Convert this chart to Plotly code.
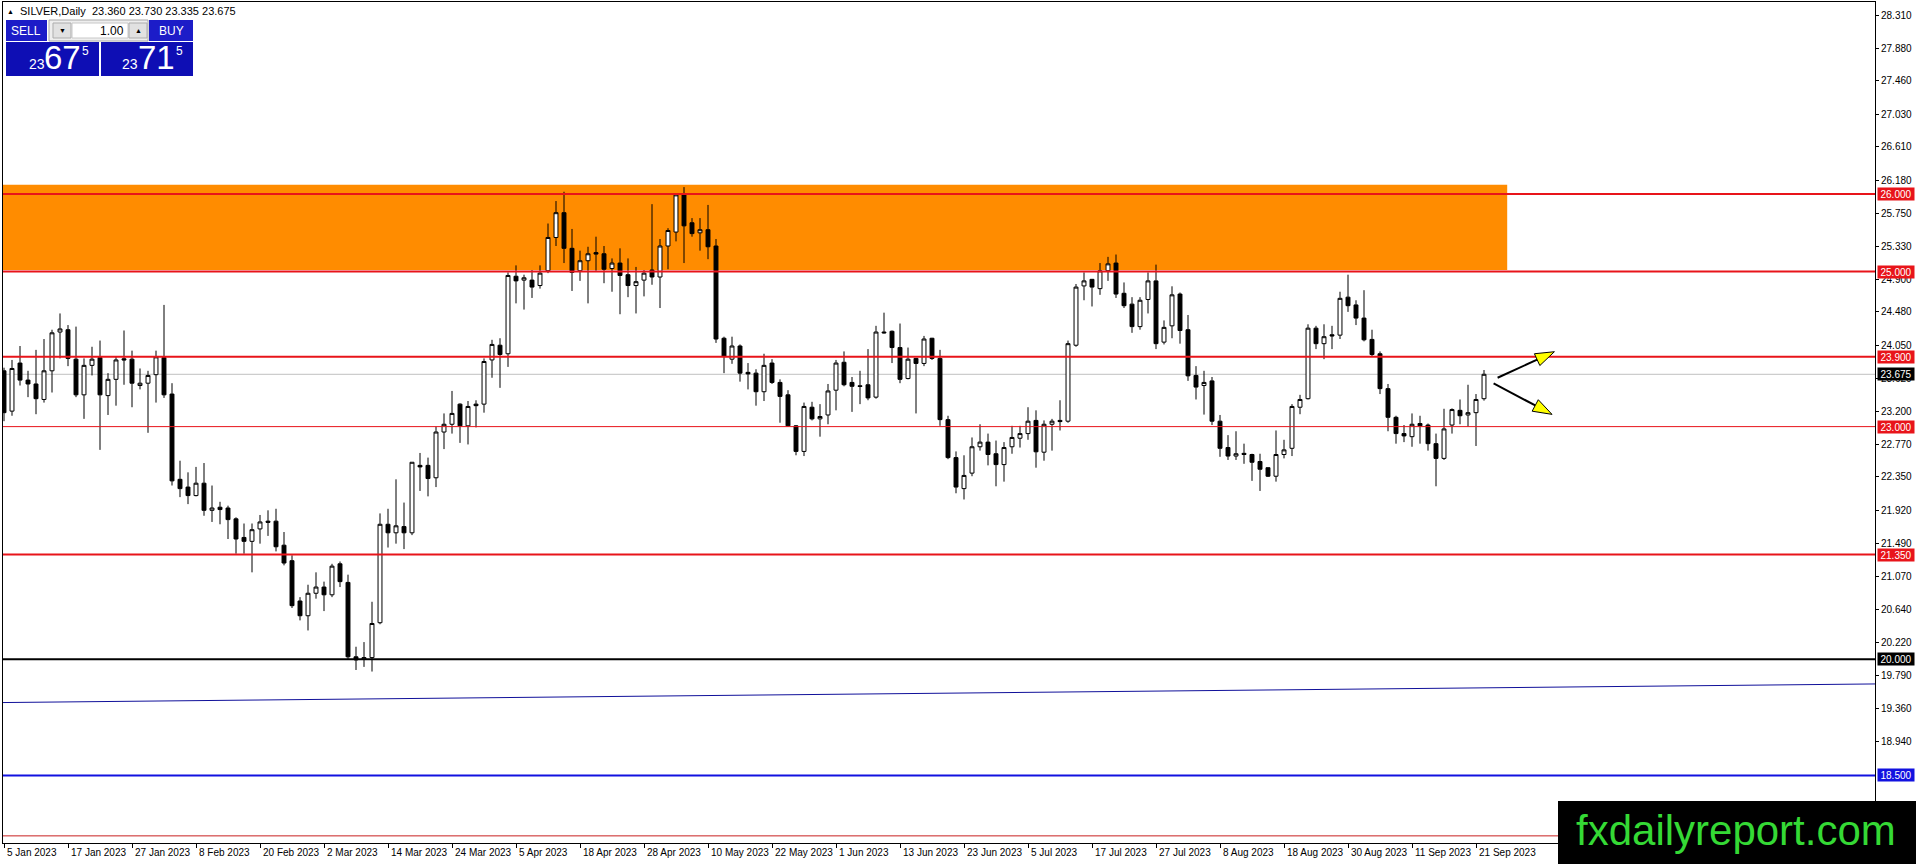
import pandas as pd
import plotly.graph_objects as go

# daily bars (MT4 style, weekdays, Good Friday missing)
dates = pd.bdate_range("2023-01-05", "2023-09-22")
dates = dates[dates != pd.Timestamp("2023-04-07")]

opens = [23.72, 23.20, 23.82, 23.60, 23.55, 23.35, 23.72, 24.22, 24.25, 23.87,
         23.41, 23.79, 23.89, 23.40, 23.61, 23.875, 23.87, 23.53, 23.56, 23.67,
         23.89, 23.42, 22.32, 22.22, 22.11, 22.27, 21.92, 21.96, 21.95, 21.81,
         21.57, 21.52, 21.68, 21.78, 21.78, 21.47, 21.27, 20.75, 20.56, 20.85,
         20.93, 20.83, 21.23, 20.99, 20.03, 20.00, 20.02, 20.47, 21.74, 21.63,
         21.71, 21.63, 22.50, 22.50, 22.34, 22.93, 23.03, 23.29, 23.01, 23.29,
         23.29, 23.86, 24.05, 23.94, 24.94, 24.89, 24.89, 24.82, 25.01, 25.44,
         25.76, 25.30, 25.01, 25.14, 25.245, 25.23, 25.04, 25.11, 24.96, 24.82,
         24.89, 25.02, 24.93, 25.33, 25.51, 25.99, 25.63, 25.50, 25.54, 25.33,
         24.14, 23.87, 24.04, 23.70, 23.69, 23.45, 23.82, 23.57, 23.41, 23.01,
         22.68, 23.25, 23.10, 23.15, 23.47, 23.83, 23.57, 23.527, 23.54, 23.38,
         24.22, 24.23, 24.02, 23.62, 23.88, 23.815, 24.14, 23.88, 23.09, 22.60,
         22.20, 22.40, 22.74, 22.80, 22.65, 22.51, 22.74, 22.85, 22.91, 23.08,
         22.67, 23.03, 23.08, 23.07, 24.05, 24.815, 24.90, 24.78, 25.01, 25.11,
         24.72, 24.58, 24.29, 24.64, 24.88, 24.09, 24.30, 24.71, 24.25, 23.66,
         23.53, 23.59, 23.07, 22.73, 22.62, 22.655, 22.64, 22.55, 22.47, 22.36,
         22.64, 22.72, 23.25, 23.36, 24.27, 24.07, 24.185, 24.18, 24.67, 24.57,
         24.40, 24.125, 23.94, 23.49, 23.12, 22.91, 22.87, 23.04, 23.02, 22.78,
         22.59, 23.02, 23.21, 23.15, 23.18, 23.36]
highs = [23.76, 23.86, 24.04, 23.72, 23.99, 24.13, 24.25, 24.46, 24.31, 24.29,
         23.88, 24.03, 24.11, 23.69, 23.90, 24.24, 23.98, 23.75, 23.72, 23.98,
         24.57, 23.56, 22.56, 22.41, 22.48, 22.53, 22.24, 22.03, 21.98, 21.83,
         21.75, 21.75, 21.86, 21.92, 21.94, 21.64, 21.34, 20.80, 20.96, 21.12,
         21.00, 21.23, 21.26, 21.09, 20.16, 20.22, 20.74, 21.88, 21.94, 22.32,
         22.02, 22.54, 22.66, 22.60, 23.00, 23.17, 23.46, 23.30, 23.33, 23.34,
         23.88, 24.12, 24.14, 24.99, 25.08, 24.96, 25.02, 25.08, 25.62, 25.91,
         26.03, 25.55, 25.27, 25.32, 25.45, 25.33, 25.17, 25.30, 25.17, 25.06,
         25.02, 25.87, 25.42, 25.56, 26.01, 26.09, 25.69, 25.69, 25.86, 25.42,
         24.16, 24.16, 24.06, 23.82, 23.74, 23.94, 23.87, 23.61, 23.47, 23.02,
         23.31, 23.32, 23.29, 23.55, 23.86, 23.97, 23.64, 23.72, 24.00, 24.30,
         24.47, 24.24, 24.33, 24.02, 23.885, 24.17, 24.145, 23.99, 23.14, 22.68,
         22.63, 22.86, 23.03, 22.91, 22.82, 22.80, 23.01, 23.01, 23.25, 23.21,
         23.08, 23.10, 23.34, 24.11, 24.84, 24.99, 24.905, 25.11, 25.19, 25.22,
         24.86, 24.67, 24.67, 24.99, 25.09, 24.37, 24.81, 24.73, 24.44, 23.78,
         23.72, 23.64, 23.15, 22.89, 22.94, 22.78, 22.65, 22.65, 22.47, 22.95,
         22.83, 23.29, 23.41, 24.32, 24.30, 24.32, 24.30, 24.74, 24.96, 24.63,
         24.76, 24.25, 23.97, 23.55, 23.14, 23.02, 23.17, 23.14, 23.04, 22.91,
         23.23, 23.235, 23.35, 23.54, 23.42, 23.73]
lows = [23.07, 23.14, 23.53, 23.38, 23.16, 23.31, 23.44, 23.88, 23.78, 23.38,
        23.10, 23.66, 22.70, 23.15, 23.27, 23.54, 23.25, 23.48, 22.92, 23.31,
        23.37, 22.24, 22.09, 22.00, 22.10, 21.85, 21.77, 21.74, 21.55, 21.36,
        21.36, 21.12, 21.49, 21.59, 21.39, 21.21, 20.66, 20.50, 20.37, 20.78,
        20.62, 20.80, 20.93, 19.99, 19.86, 19.90, 19.84, 20.45, 21.44, 21.49,
        21.42, 21.60, 22.17, 22.10, 22.22, 22.71, 22.91, 22.79, 22.77, 22.99,
        23.18, 23.63, 23.50, 23.77, 24.59, 24.51, 24.66, 24.78, 24.98, 25.33,
        25.11, 24.75, 24.88, 24.59, 25.01, 24.85, 24.74, 24.45, 24.67, 24.46,
        24.68, 24.83, 24.53, 25.03, 25.39, 25.11, 25.45, 25.27, 25.16, 24.08,
        23.69, 23.81, 23.58, 23.48, 23.27, 23.33, 23.55, 23.05, 23.00, 22.63,
        22.62, 23.08, 22.87, 23.03, 23.21, 23.52, 23.19, 23.29, 23.34, 23.36,
        24.20, 23.82, 23.56, 23.61, 23.17, 23.78, 23.86, 23.01, 22.58, 22.14,
        22.06, 22.36, 22.69, 22.50, 22.23, 22.29, 22.65, 22.73, 22.83, 22.47,
        22.56, 22.69, 22.95, 23.05, 24.03, 24.63, 24.55, 24.70, 24.88, 24.66,
        24.53, 24.21, 24.25, 24.46, 24.00, 24.06, 24.14, 24.07, 23.59, 23.35,
        23.155, 23.02, 22.61, 22.57, 22.57, 22.52, 22.30, 22.17, 22.35, 22.29,
        22.59, 22.62, 23.16, 23.35, 24.00, 23.87, 24.00, 24.13, 24.48, 24.31,
        24.10, 23.91, 23.42, 22.94, 22.78, 22.80, 22.74, 22.78, 22.69, 22.23,
        22.57, 22.91, 23.03, 23.00, 22.75, 23.335]
closes = [23.18, 23.75, 23.60, 23.55, 23.36, 23.72, 24.21, 24.26, 23.88, 23.41,
          23.79, 23.87, 23.41, 23.61, 23.86, 23.86, 23.56, 23.56, 23.66, 23.90,
          23.41, 22.30, 22.20, 22.11, 22.27, 21.92, 21.95, 21.93, 21.80, 21.55,
          21.52, 21.67, 21.77, 21.765, 21.45, 21.24, 20.69, 20.56, 20.85, 20.93,
          20.83, 21.20, 21.00, 20.03, 19.99, 20.02, 20.46, 21.74, 21.63, 21.72,
          21.63, 22.54, 22.48, 22.33, 22.93, 23.03, 23.17, 23.01, 23.26, 23.27,
          23.84, 24.06, 23.93, 24.95, 24.88, 24.92, 24.80, 24.98, 25.44, 25.76,
          25.30, 24.99, 25.14, 25.23, 25.226, 25.03, 25.11, 24.95, 24.82, 24.87,
          24.98, 24.93, 25.33, 25.53, 25.99, 25.59, 25.49, 25.54, 25.32, 24.13,
          23.91, 24.04, 23.69, 23.68, 23.45, 23.79, 23.57, 23.39, 23.01, 22.68,
          23.26, 23.10, 23.13, 23.46, 23.82, 23.54, 23.52, 23.518, 23.37, 24.22,
          24.21, 24.02, 23.61, 23.87, 23.815, 24.13, 23.88, 23.09, 22.60, 22.22,
          22.37, 22.74, 22.80, 22.64, 22.51, 22.73, 22.86, 22.91, 23.07, 22.675,
          23.03, 23.07, 23.065, 24.07, 24.80, 24.88, 24.80, 25.01, 25.10, 24.71,
          24.56, 24.29, 24.63, 24.88, 24.07, 24.28, 24.70, 24.24, 23.655, 23.51,
          23.57, 23.07, 22.72, 22.62, 22.65, 22.64, 22.54, 22.45, 22.36, 22.64,
          22.70, 23.26, 23.35, 24.27, 24.07, 24.16, 24.17, 24.655, 24.56, 24.40,
          24.12, 23.93, 23.49, 23.12, 22.91, 22.88, 23.03, 23.01, 22.78, 22.59,
          22.97, 23.22, 23.14, 23.18, 23.35, 23.675]

# price scale labels (the ones under the 18.500 label and the logo are hidden anyway)
y_ticks = [28.310, 27.880, 27.460, 27.030, 26.610, 26.180, 25.750, 25.330,
           24.900, 24.480, 24.050, 23.620, 23.200, 22.770, 22.350, 21.920,
           21.490, 21.070, 20.640, 20.220, 19.790, 19.360, 18.940]

# horizontal levels: price, colour, width, label background
levels = [(26.000, "#e8141a", 2, "#e8141a"),
          (25.000, "#e8141a", 2, "#e8141a"),
          (23.900, "#e8141a", 2, "#e8141a"),
          (23.000, "#e8141a", 1, "#e8141a"),
          (21.350, "#e8141a", 2, "#e8141a"),
          (20.000, "#000000", 2, "#000000"),
          (18.500, "#1212e0", 2, "#1212e0"),
          (17.720, "#c82020", 1, None)]
last_price = 23.675
zone = (25.02, 26.12, 187.9)          # low, high, right end (bar)
trend = (19.44, 19.68)                # price at left / right edge
arrows = [((186.7, 23.63), (193.8, 23.966)),
          ((186.2, 23.558), (193.5, 23.158))]

W, H = 1916, 864
PL, PR, PT, PB = 3, 1875, 2, 843
x_range = [-0.125, 233.875]
y_range = [17.628, 28.478]
font = "Liberation Sans, Arial, sans-serif"

idx = list(range(len(dates)))
fig = go.Figure()
fig.add_trace(go.Candlestick(
    x=idx, open=opens, high=highs, low=lows, close=closes,
    increasing=dict(line=dict(color="black", width=1), fillcolor="white"),
    decreasing=dict(line=dict(color="black", width=1), fillcolor="black"),
    whiskerwidth=0, hoverinfo="skip", showlegend=False))


def pp(x, y):
    # pixel -> paper
    return (x - PL) / (PR - PL), (PB - y) / (PB - PT)


def box(x0, y0, x1, y1, fill, line=None, lw=1):
    a, b = pp(x0, y1)
    c, d = pp(x1, y0)
    fig.add_shape(type="rect", xref="paper", yref="paper", x0=a, y0=b, x1=c, y1=d,
                  fillcolor=fill, line=dict(color=line or fill, width=lw if line else 0),
                  layer="above")


def txt(x, y, s, size, color="white", anchor="center", fam=font):
    a, b = pp(x, y)
    fig.add_annotation(xref="paper", yref="paper", x=a, y=b, text=s, showarrow=False,
                       xanchor=anchor, yanchor="middle",
                       font=dict(size=size, color=color, family=fam))


# orange resistance zone
fig.add_shape(type="rect", x0=x_range[0], x1=zone[2], y0=zone[0], y1=zone[1],
              fillcolor="#ff8c00", line=dict(width=0), layer="below")

# current price line
fig.add_shape(type="line", xref="paper", x0=0, x1=1, y0=last_price, y1=last_price,
              line=dict(color="#c0c0c0", width=1), layer="below")

for price, col, w, lab in levels:
    fig.add_shape(type="line", xref="paper", x0=0, x1=1, y0=price, y1=price,
                  line=dict(color=col, width=w), layer="above")
    if lab:
        fig.add_annotation(xref="paper", x=1, y=price, xanchor="left", xshift=2,
                           text=f"{price:.3f}", showarrow=False, bgcolor=lab,
                           width=36, height=12, borderpad=0,
                           font=dict(size=10, color="white", family=font))
fig.add_annotation(xref="paper", x=1, y=last_price, xanchor="left", xshift=2,
                   text=f"{last_price:.3f}", showarrow=False, bgcolor="black",
                   width=36, height=12, borderpad=0,
                   font=dict(size=10, color="white", family=font))

# blue trend line
fig.add_shape(type="line", xref="paper", x0=0, x1=1, y0=trend[0], y1=trend[1],
              line=dict(color="#10109a", width=1), layer="above")

# arrows: black shaft, yellow head
sx = (PR - PL) / (x_range[1] - x_range[0])
sy = (PB - PT) / (y_range[1] - y_range[0])
for (xa, ya), (xb, yb) in arrows:
    dx, dy = (xb - xa) * sx, -(yb - ya) * sy
    n = (dx ** 2 + dy ** 2) ** 0.5
    ux, uy = dx / n, dy / n
    L, Wd = 19, 6.5
    bx, by = dx - ux * L, dy - uy * L
    c1 = (bx - uy * Wd, by + ux * Wd)
    c2 = (bx + uy * Wd, by - ux * Wd)
    to = lambda p: (xa + p[0] / sx, ya - p[1] / sy)
    b0 = to((bx, by))
    fig.add_shape(type="line", x0=xa, y0=ya, x1=b0[0], y1=b0[1],
                  line=dict(color="black", width=2), layer="above")
    pts = [to(c1), (xb, yb), to(c2)]
    path = "M " + " L ".join(f"{p[0]:.4f},{p[1]:.4f}" for p in pts) + " Z"
    fig.add_shape(type="path", path=path, fillcolor="#ffff00",
                  line=dict(color="black", width=1), layer="above")

# date labels, left aligned at their tick like MT4
for i in range(0, len(dates), 8):
    d = dates[i]
    fig.add_annotation(x=i, y=0, yref="paper", xanchor="left", yanchor="top",
                       xshift=1, yshift=-2, showarrow=False,
                       text=f"{d.day} {d:%b %Y}",
                       font=dict(size=10, color="black", family=font))

# title line
txt(18, 11, "SILVER,Daily  23.360 23.730 23.335 23.675", 11, "black", "left")
txt(10, 11, "▲", 7, "black")

# one-click trading panel
box(6, 20, 47, 41, "#1c1cc8")
box(149, 20, 193, 41, "#1c1cc8")
box(49, 20, 148, 41, "#eeeeee", "#a8a8a8")
box(53, 23, 71, 38, "#e1e1e1", "#adadad")
box(72, 23, 128, 38, "white", "#c8c8c8")
box(129, 23, 147, 38, "#e1e1e1", "#adadad")
box(6, 42, 99, 76, "#0e0eb4")
box(101, 42, 193, 76, "#0e0eb4")
txt(26, 31, "SELL", 12)
txt(171, 31, "BUY", 12)
txt(126, 31, "1.00", 12, "black", "right")
txt(62, 31, "▼", 7, "black")
txt(138, 31, "▲", 7, "black")
txt(37, 64, "23", 14)
txt(62, 57, "67", 33)
txt(85, 51, "5", 12)
txt(130, 64, "23", 14)
txt(156, 57, "71", 33)
txt(179, 51, "5", 12)

# watermark
box(1558, 801, 1916, 864, "black")
txt(1736, 830, "fxdailyreport.com", 42, "#35d935")

fig.update_layout(
    width=W, height=H,
    margin=dict(l=PL, r=W - PR, t=PT, b=H - PB),
    paper_bgcolor="white", plot_bgcolor="white",
    showlegend=False,
    font=dict(family=font, size=10, color="black"),
    xaxis=dict(range=x_range, showgrid=False, zeroline=False,
               showline=True, linecolor="black", linewidth=1, mirror=True,
               ticks="outside", ticklen=4, tickcolor="black",
               tickvals=list(range(0, len(dates), 8)), showticklabels=False,
               rangeslider=dict(visible=False)),
    yaxis=dict(range=y_range, side="right", showgrid=False, zeroline=False,
               showline=True, linecolor="black", linewidth=1, mirror=True,
               ticks="outside", ticklen=3, tickcolor="black",
               tickvals=y_ticks, ticktext=[f"{v:.3f}" for v in y_ticks],
               tickfont=dict(size=10, family=font)),
)

# page body has a default margin; drop it so the figure fills the window
fig.write_html("out.html", config={"displayModeBar": False},
               post_script="document.body.style.margin='0';"
                           "document.body.style.overflow='hidden';")
